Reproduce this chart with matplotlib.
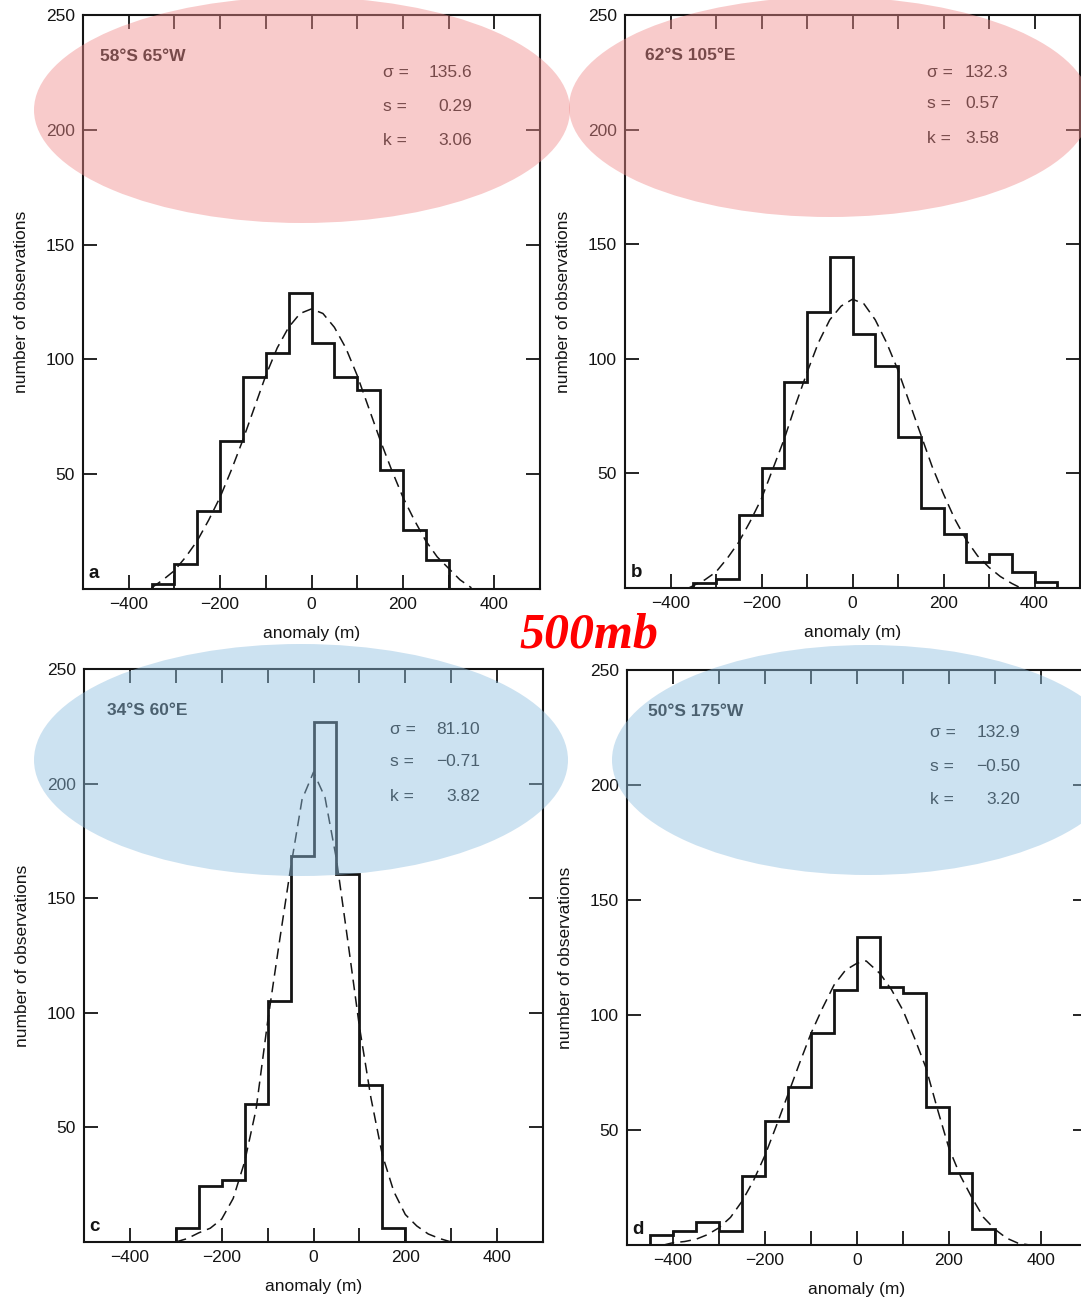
import matplotlib
matplotlib.use("Agg")
import matplotlib.pyplot as plt
from matplotlib.patches import Ellipse

plt.rcParams['font.family'] = ['Liberation Sans', 'DejaVu Sans']

# ---------------- data ----------------
a_edges = [-350, -300, -250, -200, -150, -100, -50, 0, 50, 100, 150, 200, 250, 300]
a_counts = [2, 11, 34, 64.5, 92.5, 103, 129, 107, 92.5, 86.5, 52, 25.5, 12.5]
a_curve_x = [-350, -325, -300, -275, -250, -225, -200, -175, -150, -125, -100, -75, -50, -25, 0,
             25, 50, 75, 100, 125, 150, 175, 200, 225, 250, 275, 300, 325, 350]
a_curve_y = [0.5, 4, 8, 14, 21, 30, 40, 52, 65, 79, 93, 105, 114, 120, 122,
             120, 114, 105, 93, 79, 65, 52, 40, 30, 21, 14, 9, 4, 0.5]

b_edges = [-350, -300, -250, -200, -150, -100, -50, 0, 50, 100, 150, 200, 250, 300, 350, 400, 450]
b_counts = [2, 4, 32, 52.5, 90, 120.5, 144.5, 111, 97, 66, 35, 23.5, 11.5, 15, 7, 2.5]
b_curve_x = [-360, -350, -325, -300, -275, -250, -225, -200, -175, -150, -125, -100, -75, -50, -25, 0,
             25, 50, 75, 100, 125, 150, 175, 200, 225, 250, 275, 300, 325, 350, 370]
b_curve_y = [0, 1, 3.5, 7, 13, 20, 29, 39, 52, 65, 80, 94, 107, 117, 123, 126,
             124, 117, 107, 95, 81, 67, 53, 41, 30, 21, 14, 9, 5, 2, 0]

c_edges = [-300, -250, -200, -150, -100, -50, 0, 50, 100, 150, 200]
c_counts = [6, 24.5, 27, 60, 105, 168.5, 227, 160.5, 68.5, 6]
c_curve_x = [-300, -275, -250, -225, -200, -175, -150, -125, -100, -75, -50, -25, 0,
             25, 50, 75, 100, 125, 150, 175, 200, 225, 250, 275, 300]
c_curve_y = [0, 1.5, 4, 6, 10, 19, 35, 58, 96, 130, 163, 193, 205,
             194, 167, 131, 94, 63, 38, 22, 12, 7, 3.5, 1.5, 0]

d_edges = [-450, -400, -350, -300, -250, -200, -150, -100, -50, 0, 50, 100, 150, 200, 250, 300]
d_counts = [4.5, 6, 10, 6, 30, 54, 68.5, 92, 111, 134, 112, 109.5, 60, 31.5, 6.8]
d_curve_x = [-420, -400, -375, -350, -325, -300, -275, -250, -225, -200, -175, -150, -125, -100, -75,
             -50, -25, 0, 20, 50, 75, 100, 125, 150, 175, 200, 225, 250, 275, 300, 325, 350, 375]
d_curve_y = [0, 1, 1.5, 2.5, 4.5, 7.5, 12, 19, 28, 39, 52, 65.5, 79, 92, 103,
             113, 119.5, 122.5, 123.5, 118, 111, 102, 90, 77, 59, 42, 30, 20.5, 12, 6.8, 3, 0.8, 0]

locations = ["58°S 65°W", "62°S 105°E", "34°S 60°E", "50°S 175°W"]
letters = ["a", "b", "c", "d"]
sigma_txt = ["135.6", "132.3", "81.10", "132.9"]
skew_txt = ["0.29", "0.57", "\u22120.71", "\u22120.50"]
kurt_txt = ["3.06", "3.58", "3.82", "3.20"]

x_ticks = [-400, -300, -200, -100, 0, 100, 200, 300, 400]
x_ticklabels = ["\u2212400", "", "\u2212200", "", "0", "", "200", "", "400"]
y_ticks = [50, 100, 150, 200, 250]
y_ticklabels = ["50", "100", "150", "200", "250"]

# ---------------- layout ----------------
W, H = 1081, 1300
fig = plt.figure(figsize=(W / 100, H / 100), dpi=100)

def rect(l, t, r, b):
    return [l / W, 1 - b / H, (r - l) / W, (b - t) / H]

axes_px = [(83, 15, 540, 589), (625, 15, 1080, 588), (84, 669, 543, 1242), (627, 670, 1087, 1245)]
stat_lab_x = [0.656, 0.664, 0.667, 0.659]
stat_num_x = [0.851, 0.747, 0.863, 0.854]
stat_num_ha = ["right", "left", "right", "right"]
stat_y = [(0.899, 0.841, 0.782), (0.900, 0.845, 0.785), (0.895, 0.839, 0.778), (0.892, 0.833, 0.774)]
title_xy = [(0.037, 0.927), (0.044, 0.930), (0.050, 0.927), (0.046, 0.927)]

panels = [
    (a_edges, a_counts, a_curve_x, a_curve_y),
    (b_edges, b_counts, b_curve_x, b_curve_y),
    (c_edges, c_counts, c_curve_x, c_curve_y),
    (d_edges, d_counts, d_curve_x, d_curve_y),
]

ink = '#141414'
for i, (edges, counts, cx, cy) in enumerate(panels):
    ax = fig.add_axes(rect(*axes_px[i]))
    ax.stairs(counts, edges, color=ink, lw=2.0, baseline=0)
    ax.plot(cx, cy, color=ink, lw=1.1, ls=(0, (7, 4)))
    ax.set_xlim(-500, 500)
    ax.set_ylim(0, 250)
    ax.set_xticks(x_ticks)
    ax.set_xticklabels(x_ticklabels)
    ax.set_yticks(y_ticks)
    ax.set_yticklabels(y_ticklabels)
    ax.tick_params(direction='in', length=10, width=1.3, top=True, right=True,
                   labelsize=12.5, colors=ink, pad=6)
    for s in ax.spines.values():
        s.set_linewidth(1.5)
        s.set_color(ink)
    ax.set_xlabel("anomaly (m)", fontsize=12.5, color=ink, labelpad=10)
    ax.set_ylabel("number of observations", fontsize=12.5, color=ink, labelpad=12)
    ax.text(0.012, 0.012, letters[i], transform=ax.transAxes, fontsize=13.5,
            ha='left', va='bottom', color=ink, weight='bold')
    tx, ty = title_xy[i]
    ax.text(tx, ty, locations[i], transform=ax.transAxes, fontsize=12.5,
            ha='left', va='center', color=ink, weight='bold')
    for lab, num, yy in zip(["\u03c3 =", "s =", "k ="],
                            [sigma_txt[i], skew_txt[i], kurt_txt[i]], stat_y[i]):
        ax.text(stat_lab_x[i], yy, lab, transform=ax.transAxes, fontsize=12.5,
                ha='left', va='center', color=ink)
        ax.text(stat_num_x[i], yy, num, transform=ax.transAxes, fontsize=12.5,
                ha=stat_num_ha[i], va='center', color=ink)

# ---------------- highlight ellipses ----------------
ellipses = [
    ((302, 110), 536, 226, '#f08c8c'),
    ((830, 107), 522, 220, '#f08c8c'),
    ((301, 760), 534, 232, '#8fbfe0'),
    ((868, 760), 512, 230, '#8fbfe0'),
]
for (cxp, cyp), wp, hp, col in ellipses:
    e = Ellipse((cxp / W, 1 - cyp / H), wp / W, hp / H, transform=fig.transFigure,
                facecolor=col, edgecolor='none', alpha=0.45, zorder=10)
    fig.patches.append(e)

fig.text(589 / W, 1 - 636 / H, "500mb", color='red', fontsize=36,
         family=['Liberation Serif', 'DejaVu Serif'], style='italic', weight='bold',
         ha='center', va='center', zorder=20)

fig.savefig("out.png", dpi=100)
